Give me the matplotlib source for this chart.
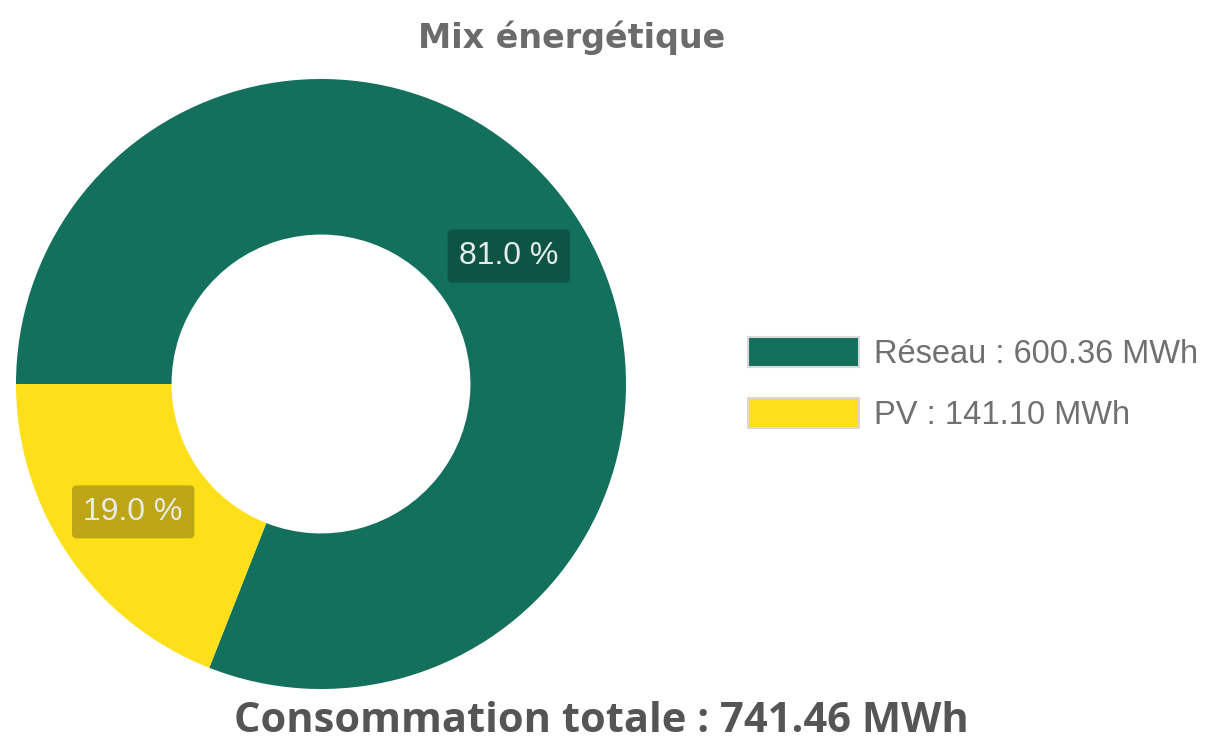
import numpy as np
import matplotlib.pyplot as plt
from matplotlib.patches import Patch

# data
labels = ['Réseau', 'PV']
energy_mwh = [600.36, 141.10]
colors = ['#12705c', '#fde019']
box_colors = ['#0d5444', '#bda515']
total_mwh = 741.46

fig = plt.figure(figsize=(12.07, 7.44), dpi=100)
fig.patch.set_facecolor('white')

# donut axes: square, centre ~ (321, 384) px, radius ~305 px
ax = fig.add_axes([16 / 1207, 55 / 744, 610 / 1207, 610 / 744])

wedges, _ = ax.pie(energy_mwh, colors=colors, startangle=180, counterclock=False,
                   radius=1.0, wedgeprops=dict(width=0.51, linewidth=0))
ax.set_xlim(-1, 1)
ax.set_ylim(-1, 1)
ax.set_aspect('equal')
ax.axis('off')

# percentage labels in the middle of each ring segment
for w, v, bc in zip(wedges, energy_mwh, box_colors):
    ang = np.deg2rad((w.theta1 + w.theta2) / 2)
    r = 1 - 0.51 / 2
    pct = v / sum(energy_mwh) * 100
    ax.text(r * np.cos(ang), r * np.sin(ang), f'{pct:.1f} %',
            ha='center', va='center', fontsize=23, color='#e6ece9',
            family='Liberation Sans',
            bbox=dict(boxstyle='round,pad=0.36,rounding_size=0.15',
                      facecolor=bc, edgecolor='none'))

# legend
handles = [Patch(facecolor=c, edgecolor='#d8d8d8', linewidth=1.5) for c in colors]
leg_labels = [f'{l} : {v:.2f} MWh' for l, v in zip(labels, energy_mwh)]
leg = fig.legend(handles, leg_labels, loc='center left',
                 bbox_to_anchor=(748 / 1207, 1 - 384 / 744),
                 frameon=False, handlelength=3.4, handleheight=1.05,
                 handletextpad=0.45, labelspacing=0.84,
                 borderpad=0, borderaxespad=0,
                 prop=dict(family='Liberation Sans', size=23.5))
for t in leg.get_texts():
    t.set_color('#707070')

fig.text(572 / 1207, 1 - 38 / 744, 'Mix énergétique', ha='center', va='center',
         fontsize=24, fontweight='bold', color='#6b6b6b', family='DejaVu Sans')
fig.text(601 / 1207, 1 - 721 / 744, f'Consommation totale : {total_mwh:.2f} MWh',
         ha='center', va='center', fontsize=30, fontweight='bold', color='#555555',
         family='Open Sans')

fig.savefig('out.png', dpi=100)
